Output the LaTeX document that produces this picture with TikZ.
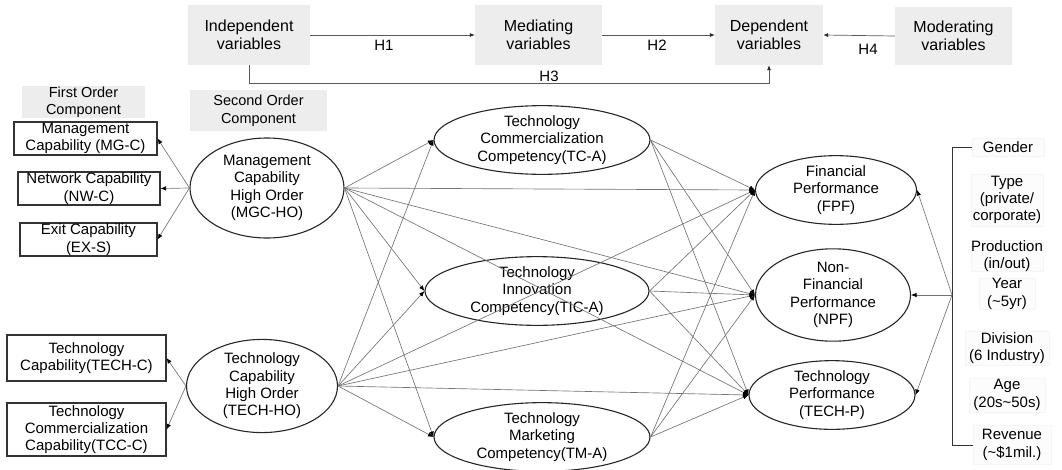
\documentclass[tikz,border=0pt]{standalone}
\usepackage{fontspec}
\setmainfont{Liberation Sans}
\usetikzlibrary{shapes.geometric,arrows.meta}
\begin{document}
\begin{tikzpicture}[x=1pt,y=-1pt,
  font=\fontsize{15}{17.3}\selectfont,
  lat/.style={ellipse, draw=black!85, line width=1.1pt, inner sep=0pt, align=center},
  fo/.style={rectangle, draw=black!80, line width=1.1pt, inner sep=0pt, align=center},
  gbox/.style={rectangle, fill=black!7, inner sep=0pt, align=center},
  mbox/.style={rectangle, fill=black!1, draw=black!4, inner sep=0pt, align=center},
  link/.style={draw=black!55, line width=0.65pt, -{Latex[length=5.5pt,width=4.5pt,color=black]}},
  toparr/.style={draw=black!65, line width=0.7pt, -{Latex[length=5pt,width=4pt,color=black!85]}},
  hlab/.style={inner sep=0pt, font=\fontsize{15}{17}\selectfont}
]
\useasboundingbox (0,0) rectangle (1062,469);

% top legend
\begin{scope}[every node/.append style={font=\fontsize{16}{18.5}\selectfont}]
\node[gbox, minimum width=122pt, minimum height=60pt] (ind) at (249,35) {Independent\\variables};
\node[gbox, minimum width=127pt, minimum height=60pt] (med) at (538.5,35) {Mediating\\variables};
\node[gbox, minimum width=108pt, minimum height=60pt] (dep) at (769,35) {Dependent\\variables};
\node[gbox, minimum width=117pt, minimum height=58pt] (mod) at (953.5,36) {Moderating\\variables};
\end{scope}
\draw[toparr] (ind.east) -- (med.west);
\draw[toparr] (med.east) -- (dep.west);
\draw[toparr] (mod.west) -- (dep.east);
\coordinate (h3a) at (249,83);
\draw[toparr] (ind.south) -- (h3a) -| (dep.south);
\node[hlab] (h1) at (384,45) {H1};
\node[hlab] (h2) at (657,45) {H2};
\node[hlab] (h4) at (868,49) {H4};
\node[hlab] (h3) at (549,76) {H3};

% component labels
\node[gbox, minimum width=123pt, minimum height=32pt, font=\fontsize{14.5}{17.5}\selectfont] (foc) at (83.5,102) {First Order\\Component};
\node[gbox, minimum width=137pt, minimum height=41pt, font=\fontsize{14.5}{17.5}\selectfont] (soc) at (258.5,110.5) {Second Order\\Component};

% first order boxes
\node[fo, minimum width=143pt, minimum height=33pt] (mgc) at (85.5,138.5) {Management\\Capability (MG-C)};
\node[fo, minimum width=142pt, minimum height=33pt] (nwc) at (89,188.5) {Network Capability\\(NW-C)};
\node[fo, minimum width=137pt, minimum height=33pt] (exs) at (88.5,239.5) {Exit Capability\\(EX-S)};
\node[fo, minimum width=159pt, minimum height=46pt] (techc) at (86.5,358) {Technology\\Capability(TECH-C)};
\node[fo, minimum width=159pt, minimum height=53pt] (tccc) at (86.5,429.5) {Technology\\Commercialization\\Capability(TCC-C)};

% second order ellipses
\node[lat, minimum width=154pt, minimum height=100pt] (mgcho) at (267,188) {Management\\Capability\\High Order\\(MGC-HO)};
\node[lat, minimum width=151pt, minimum height=93pt] (techho) at (262,386) {Technology\\Capability\\High Order\\(TECH-HO)};

% mediators
\node[lat, minimum width=216pt, minimum height=63pt] (tca) at (542,140) {Technology\\Commercialization\\Competency(TC-A)};
\node[lat, minimum width=224pt, minimum height=68pt] (tica) at (537,291) {Technology\\Innovation\\Competency(TIC-A)};
\node[lat, minimum width=216pt, minimum height=62pt] (tma) at (542,437) {Technology\\Marketing\\Competency(TM-A)};

% dependents
\node[lat, minimum width=161pt, minimum height=57pt] (fpf) at (836,190) {Financial\\Performance\\(FPF)};
\node[lat, minimum width=155pt, minimum height=70pt] (npf) at (833,295) {Non-\\Financial\\Performance\\(NPF)};
\node[lat, minimum width=166pt, minimum height=65pt] (techp) at (832,395) {Technology\\Performance\\(TECH-P)};

% moderators
\node[mbox, minimum width=72pt, minimum height=18pt] (gender) at (1008,147) {Gender};
\node[mbox, minimum width=72pt, minimum height=52pt] (type) at (1007,200) {Type\\(private/\\corporate)};
\node[mbox, minimum width=72pt, minimum height=30pt] (prod) at (1007,256) {Production\\(in/out)};
\node[mbox, minimum width=56pt, minimum height=28pt] (year) at (1007,294) {Year\\(\textasciitilde5yr)};
\node[mbox, minimum width=84pt, minimum height=34pt] (div) at (1007,348) {Division\\(6 Industry)};
\node[mbox, minimum width=76pt, minimum height=34pt] (age) at (1007,395) {Age\\(20s\textasciitilde50s)};
\node[mbox, minimum width=78pt, minimum height=39pt] (rev) at (1012,445) {Revenue\\(\textasciitilde\$1mil.)};

% bracket
\draw[draw=black!80, line width=1pt] (gender.west) -- (952,147) -- (952,445) -- (rev.west);
\coordinate (brk) at (952,295);
\foreach \t in {fpf,npf,techp} \draw[link] (brk) -- (\t.east);

% measurement arrows
\foreach \t in {mgc,nwc,exs} \draw[link] (mgcho.west) -- (\t.east);
\foreach \t in {techc,tccc} \draw[link] (techho.west) -- (\t.east);

% structural paths
\foreach \s in {mgcho,techho}
  \foreach \t in {tca,tica,tma,fpf,npf,techp}
    \draw[link] (\s.east) -- (\t.west);
\foreach \s in {tca,tica,tma}
  \foreach \t in {fpf,npf,techp}
    \draw[link] (\s.east) -- (\t.west);
\end{tikzpicture}
\end{document}
